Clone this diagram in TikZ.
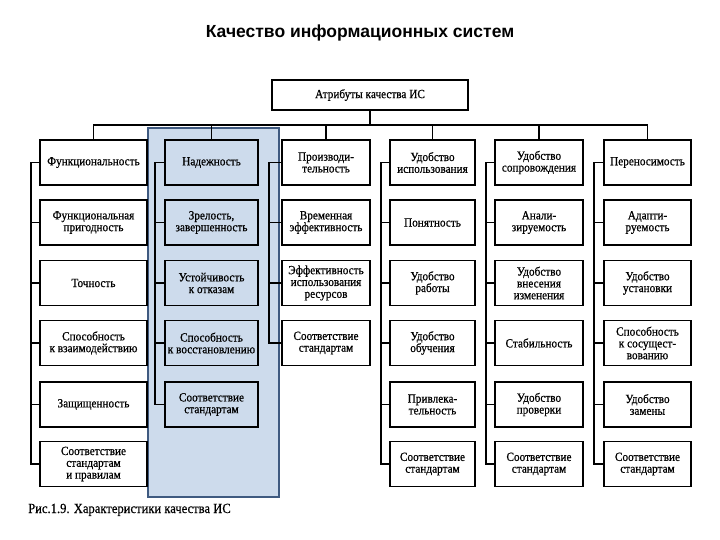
\documentclass[tikz,border=0pt]{standalone}
\usepackage{fontspec}
\setmainfont{Liberation Serif}[FakeStretch=0.9, FakeBold=0.6]
\newfontfamily\titlefont{Liberation Sans}
\definecolor{hiliteFill}{RGB}{205,219,236}
\definecolor{hiliteDraw}{RGB}{63,90,128}

\begin{document}
\begin{tikzpicture}[x=1pt, y=-1pt,
    box/.style={draw, line width=1.8pt, minimum height=45, align=center, inner sep=1pt, font=\fontsize{12.5}{11.8}\selectfont},
    tree/.style={line width=1.3pt},
    hilite/.style={fill=hiliteFill, draw=hiliteDraw, line width=2pt}]
    \useasboundingbox (0,0) rectangle (720,540);
    \node (title) [anchor=base, at={(360,38)}, font=\titlefont\bfseries\fontsize{17.5}{18}\selectfont] {Качество информационных систем};
    \draw [hilite] (148,128) rectangle (279,497);
    \node (attr) [box, minimum width=196, minimum height=30, at={(370,95)}] {Атрибуты качества ИС};

    \node (fn1) [box, minimum width=107, at={(93.5,162.5)}] {Функциональность};
    \node (fn2) [box, minimum width=107, at={(93.5,222.5)}] {Функциональная\\пригодность};
    \node (fn3) [box, minimum width=107, at={(93.5,283)}] {Точность};
    \node (fn4) [box, minimum width=107, at={(93.5,343)}] {Способность\\к взаимодействию};
    \node (fn5) [box, minimum width=107, at={(93.5,404.5)}] {Защищенность};
    \node (fn6) [box, minimum width=107, at={(93.5,464)}] {Соответствие\\стандартам\\и правилам};

    \node (rel1) [box, minimum width=93, at={(211.5,162.5)}] {Надежность};
    \node (rel2) [box, minimum width=93, at={(211.5,222.5)}] {Зрелость,\\завершенность};
    \node (rel3) [box, minimum width=93, at={(211.5,283)}] {Устойчивость\\к отказам};
    \node (rel4) [box, minimum width=93, at={(211.5,343)}] {Способность\\к восстановлению};
    \node (rel5) [box, minimum width=93, at={(211.5,404.5)}] {Соответствие\\стандартам};

    \node (eff1) [box, minimum width=88, at={(326,162.5)}] {Производи-\\тельность};
    \node (eff2) [box, minimum width=88, at={(326,222.5)}] {Временная\\эффективность};
    \node (eff3) [box, minimum width=88, at={(326,283)}] {Эффективность\\использования\\ресурсов};
    \node (eff4) [box, minimum width=88, at={(326,343)}] {Соответствие\\стандартам};

    \node (use1) [box, minimum width=85, at={(432.5,162.5)}] {Удобство\\использования};
    \node (use2) [box, minimum width=85, at={(432.5,222.5)}] {Понятность};
    \node (use3) [box, minimum width=85, at={(432.5,283)}] {Удобство\\работы};
    \node (use4) [box, minimum width=85, at={(432.5,343)}] {Удобство\\обучения};
    \node (use5) [box, minimum width=85, at={(432.5,404.5)}] {Привлека-\\тельность};
    \node (use6) [box, minimum width=85, at={(432.5,464)}] {Соответствие\\стандартам};

    \node (mnt1) [box, minimum width=88, at={(539,162.5)}] {Удобство\\сопровождения};
    \node (mnt2) [box, minimum width=88, at={(539,222.5)}] {Анали-\\зируемость};
    \node (mnt3) [box, minimum width=88, at={(539,283)}] {Удобство\\внесения\\изменения};
    \node (mnt4) [box, minimum width=88, at={(539,343)}] {Стабильность};
    \node (mnt5) [box, minimum width=88, at={(539,404.5)}] {Удобство\\проверки};
    \node (mnt6) [box, minimum width=88, at={(539,464)}] {Соответствие\\стандартам};

    \node (prt1) [box, minimum width=87, at={(647.5,162.5)}] {Переносимость};
    \node (prt2) [box, minimum width=87, at={(647.5,222.5)}] {Адапти-\\руемость};
    \node (prt3) [box, minimum width=87, at={(647.5,283)}] {Удобство\\установки};
    \node (prt4) [box, minimum width=87, at={(647.5,343)}] {Способность\\к сосущест-\\вованию};
    \node (prt5) [box, minimum width=87, at={(647.5,404.5)}] {Удобство\\замены};
    \node (prt6) [box, minimum width=87, at={(647.5,464)}] {Соответствие\\стандартам};

    \draw [tree] (attr.south) -- ++(0,14) coordinate (bus);
    \draw [tree] (fn1.north) |- (prt1.north |- bus) -- (prt1.north);
    \foreach \c in {rel,eff,use,mnt}
        \draw [tree] (\c1.north) -- (\c1.north |- bus);
    \foreach \c/\n/\d in {fn/6/8, rel/5/9, eff/4/12, use/6/8, mnt/6/8, prt/6/9} {
        \draw [tree] (\c1.west) -- ++(-\d,0) |- (\c\n.west);
        \foreach \i in {2,...,\n}
            \draw [tree] (\c\i.west) -- ++(-\d,0);
    }

    \node (caption) [anchor=base west, inner sep=0, at={(28,513)}, font=\fontsize{14}{14}\selectfont] {Рис.1.9. Характеристики качества ИС};
\end{tikzpicture}
\end{document}
